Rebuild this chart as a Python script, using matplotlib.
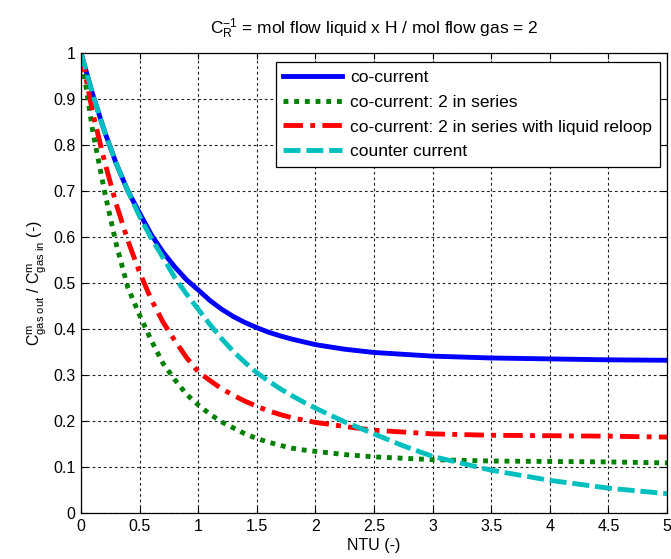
import matplotlib
matplotlib.use("Agg")
import matplotlib.pyplot as plt
import numpy as np

plt.rcParams['font.family'] = ['Liberation Sans', 'DejaVu Sans']
plt.rcParams['mathtext.fontset'] = 'custom'
plt.rcParams['mathtext.rm'] = 'Liberation Sans'
plt.rcParams['mathtext.it'] = 'Liberation Sans'
plt.rcParams['mathtext.bf'] = 'Liberation Sans'

ntu = [0, 0.1, 0.2, 0.3, 0.4, 0.5, 0.6, 0.7, 0.8, 0.9, 1.0, 1.1, 1.2, 1.3, 1.4,
       1.5, 1.6, 1.7, 1.8, 1.9, 2.0, 2.25, 2.5, 2.75, 3.0, 3.5, 4.0, 4.5, 5.0]
co_current = [1.0, 0.91, 0.83, 0.76, 0.70, 0.652, 0.605, 0.567, 0.535, 0.507, 0.485,
              0.462, 0.443, 0.427, 0.414, 0.403, 0.393, 0.385, 0.378, 0.372, 0.366,
              0.356, 0.349, 0.345, 0.341, 0.337, 0.335, 0.333, 0.332]
co_series = [1.0, 0.83, 0.70, 0.585, 0.49, 0.43, 0.375, 0.325, 0.29, 0.258, 0.235,
             0.215, 0.198, 0.185, 0.172, 0.162, 0.154, 0.147, 0.141, 0.137, 0.134,
             0.127, 0.122, 0.119, 0.116, 0.113, 0.112, 0.111, 0.109]
co_reloop = [1.0, 0.87, 0.765, 0.672, 0.592, 0.523, 0.464, 0.415, 0.375, 0.338, 0.307,
             0.288, 0.27, 0.256, 0.243, 0.232, 0.222, 0.214, 0.207, 0.202, 0.197,
             0.188, 0.180, 0.176, 0.172, 0.169, 0.168, 0.167, 0.165]
counter = [1.0, 0.91, 0.83, 0.76, 0.70, 0.645, 0.597, 0.555, 0.512, 0.476, 0.443,
           0.41, 0.379, 0.351, 0.327, 0.305, 0.287, 0.27, 0.255, 0.241, 0.228,
           0.198, 0.172, 0.146, 0.123, 0.093, 0.071, 0.054, 0.042]

labels = ["co-current", "co-current: 2 in series",
          "co-current: 2 in series with liquid reloop", "counter current"]
xticks = [0, 0.5, 1, 1.5, 2, 2.5, 3, 3.5, 4, 4.5, 5]
xticklabels = ["0", "0.5", "1", "1.5", "2", "2.5", "3", "3.5", "4", "4.5", "5"]
yticks = [0, 0.1, 0.2, 0.3, 0.4, 0.5, 0.6, 0.7, 0.8, 0.9, 1]
yticklabels = ["0", "0.1", "0.2", "0.3", "0.4", "0.5", "0.6", "0.7", "0.8", "0.9", "1"]

fs = 11.5
fs_big = 12.5
fig = plt.figure(figsize=(6.71, 5.59), dpi=100)
ax = fig.add_axes([81/671, 1-513/559, (667-81)/671, (513-53)/559])

lw = 3.5
ax.plot(ntu, co_current, color='#0000ff', lw=lw, label=labels[0])
ax.plot(ntu, co_series, color='#008000', lw=lw, linestyle=(0, (1, 1.2)),
        dash_capstyle='butt', label=labels[1])
ax.plot(ntu, co_reloop, color='#ff0000', lw=lw, linestyle=(0, (4, 1.5, 1, 1.5)),
        dash_capstyle='butt', label=labels[2])
ax.plot(ntu, counter, color='#00bfbf', lw=lw, linestyle=(0, (3.5, 1.2)),
        dash_capstyle='butt', label=labels[3])

ax.set_xlim(0, 5)
ax.set_ylim(0, 1)
ax.set_xticks(xticks)
ax.set_xticklabels(xticklabels)
ax.set_yticks(yticks)
ax.set_yticklabels(yticklabels)
ax.tick_params(direction='in', top=True, right=True, length=4, width=0.8,
               labelsize=fs, pad=4)
ax.grid(True, color='#222222', linestyle=(0, (2.5, 2.5)), lw=0.8)
for s in ax.spines.values():
    s.set_linewidth(0.9)

ax.set_title(r"$\mathrm{C_R^{-1}}$ = mol flow liquid x H / mol flow gas = 2",
             fontsize=fs_big, pad=14)
ax.set_xlabel("NTU (-)", fontsize=fs, labelpad=3)
ax.set_ylabel(r"$\mathrm{C^m_{gas\ out}}$ / $\mathrm{C^m_{gas\ in}}$ (-)",
              fontsize=fs, labelpad=4)

leg = ax.legend(loc='upper right', bbox_to_anchor=(0.988, 0.98), fontsize=fs_big,
                handlelength=3.4, handletextpad=0.45, labelspacing=0.55,
                borderpad=0.45, fancybox=False, framealpha=1, edgecolor='black',
                borderaxespad=0)
leg.get_frame().set_linewidth(0.9)

fig.savefig("out.png", dpi=100)
